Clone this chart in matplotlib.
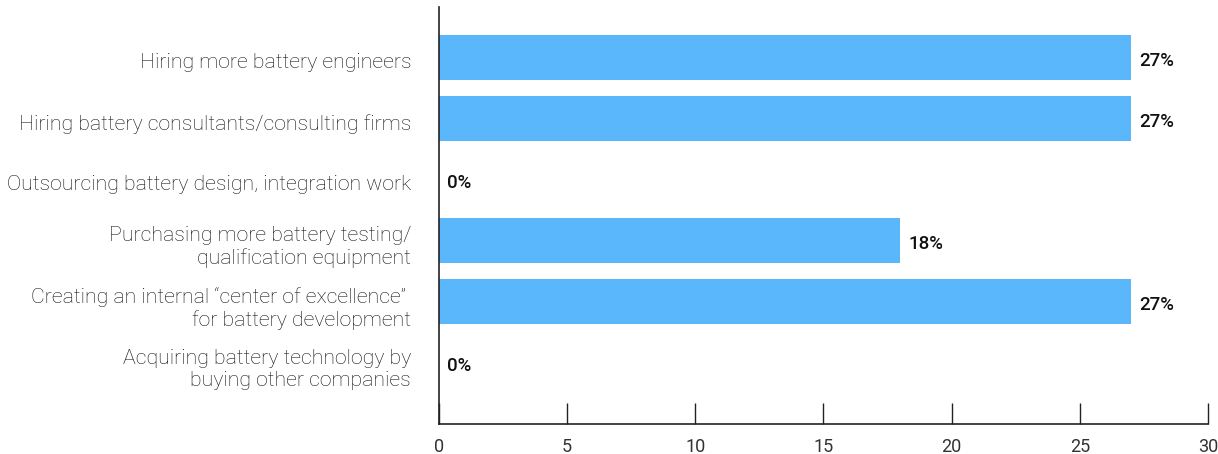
import matplotlib
matplotlib.use("Agg")
import matplotlib.pyplot as plt
import matplotlib.transforms as mtrans

categories = [
    "Hiring more battery engineers",
    "Hiring battery consultants/consulting firms",
    "Outsourcing battery design, integration work",
    "Purchasing more battery testing/\nqualification equipment",
    "Creating an internal \u201ccenter of excellence\u201d \nfor battery development",
    "Acquiring battery technology by\nbuying other companies",
]
values = [27, 27, 0, 18, 27, 0]
labels = ["27%", "27%", "0%", "18%", "27%", "0%"]
xticks = [0, 5, 10, 15, 20, 25, 30]

fig = plt.figure(figsize=(12.18, 4.54), dpi=100)
ax = fig.add_axes([439/1218, 30/454, (1208-439)/1218, (424-7)/454])

ypos = list(range(len(categories)))
ax.barh(ypos, values, height=0.74, color="#5BB7FC", zorder=2)
ax.set_xlim(0, 30)
ax.set_ylim(6.0, -0.83)
ax.set_yticks(ypos)
ax.set_yticklabels(categories, fontfamily="Roboto", fontweight="light", fontsize=15.3,
                   color="#111111", linespacing=1.2)
ax.tick_params(axis="y", length=0, pad=20)
shift = mtrans.ScaledTranslation(0, -3/100, fig.dpi_scale_trans)
for t in ax.get_yticklabels():
    t.set_transform(t.get_transform() + shift)
ax.set_xticks(xticks)
ax.set_xticklabels([str(t) for t in xticks], fontfamily="Roboto", fontweight="normal",
                   fontsize=13, color="#333333")
ax.tick_params(axis="x", direction="in", length=15, width=1, color="#222222", pad=10)
for s in ["top", "right"]:
    ax.spines[s].set_visible(False)
for s in ["left", "bottom"]:
    ax.spines[s].set_color("#222222")
    ax.spines[s].set_linewidth(1.2)

for y, v, l in zip(ypos, values, labels):
    ax.text(v + 0.3, y + 0.05, l, va="center", ha="left", fontfamily="Roboto",
            fontweight="medium", fontsize=13.5, color="#111111")

fig.savefig("out.png", dpi=100)
